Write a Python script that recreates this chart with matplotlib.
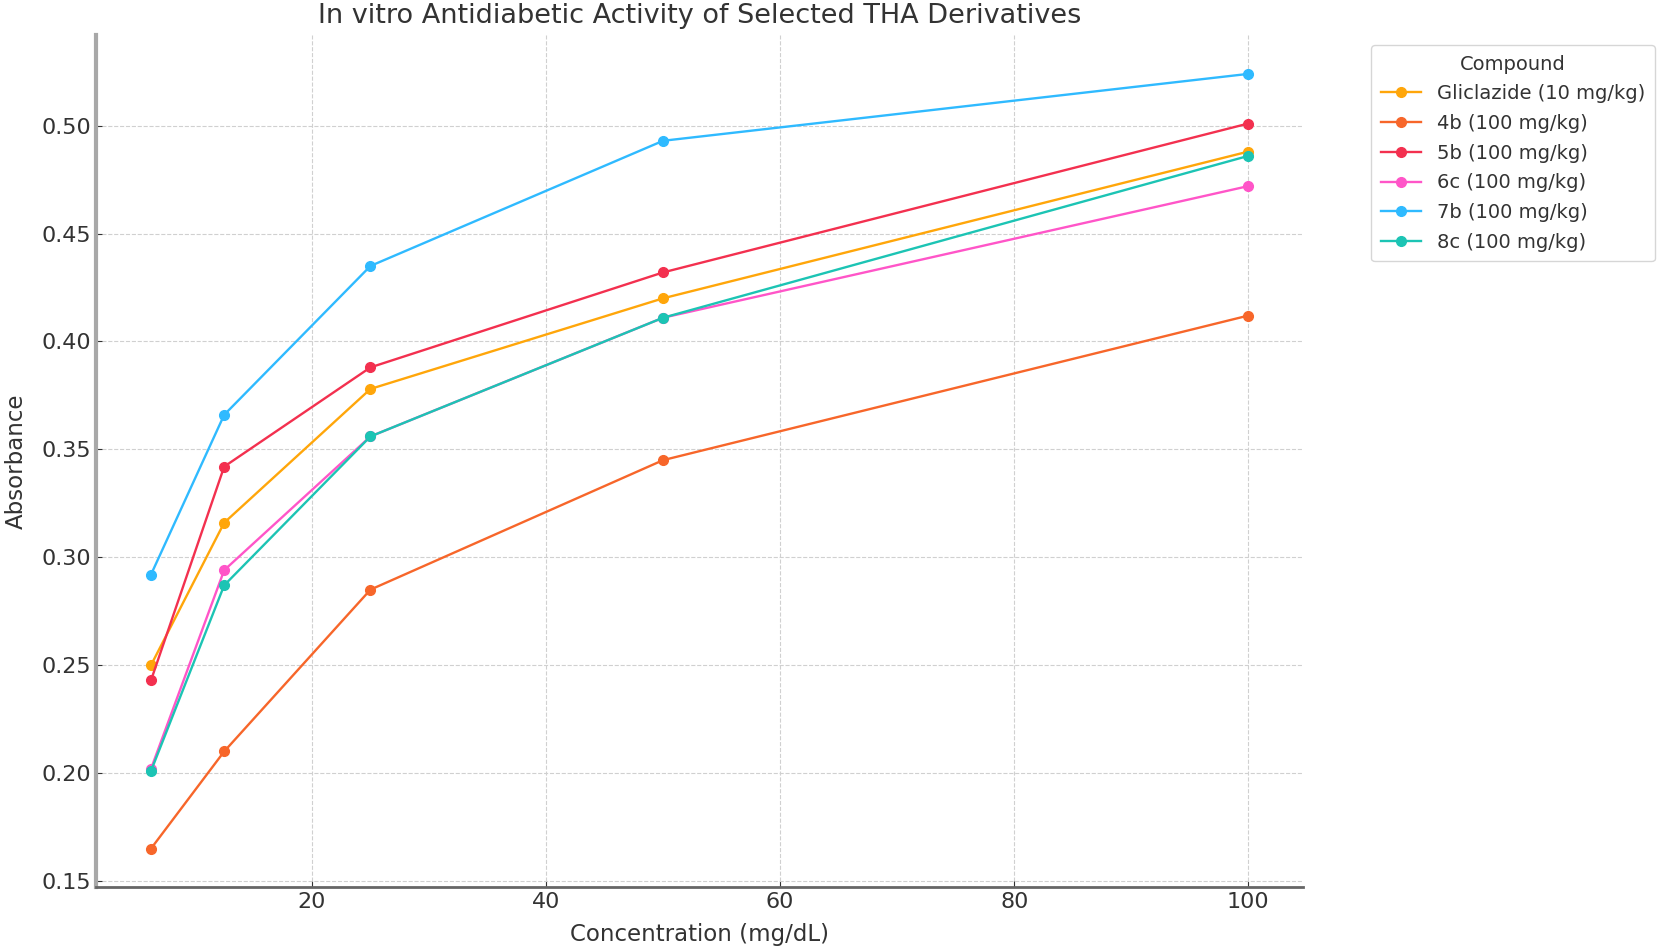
import matplotlib
matplotlib.use("Agg")
import matplotlib.pyplot as plt

# 濃度 (mg/dL)
concentrations = [6.25, 12.5, 25, 50, 100]

compounds = [
    "Gliclazide (10 mg/kg)",
    "4b (100 mg/kg)",
    "5b (100 mg/kg)",
    "6c (100 mg/kg)",
    "7b (100 mg/kg)",
    "8c (100 mg/kg)",
]

gliclazide = [0.250, 0.316, 0.378, 0.420, 0.488]
abs_4b = [0.165, 0.210, 0.285, 0.345, 0.412]
abs_5b = [0.243, 0.342, 0.388, 0.432, 0.501]
abs_6c = [0.202, 0.294, 0.356, 0.411, 0.472]
abs_7b = [0.292, 0.366, 0.435, 0.493, 0.524]
abs_8c = [0.201, 0.287, 0.356, 0.411, 0.486]

series = [gliclazide, abs_4b, abs_5b, abs_6c, abs_7b, abs_8c]
colors = ["#ffa60a", "#f7662a", "#f3304f", "#ff55c8", "#2fbaff", "#1cc4b4"]

fig, ax = plt.subplots(figsize=(16.58, 9.5), dpi=100)

for name, vals, col in zip(compounds, series, colors):
    ax.plot(concentrations, vals, marker="o", markersize=7, linewidth=1.7,
            color=col, label=name)

ax.set_title("In vitro Antidiabetic Activity of Selected THA Derivatives",
             fontsize=19.5, color="#333333", pad=9)
ax.set_xlabel("Concentration (mg/dL)", fontsize=16.5, color="#333333", labelpad=8)
ax.set_ylabel("Absorbance", fontsize=16.5, color="#333333", labelpad=10)

ax.grid(True, linestyle="--", color="#d0d0d0", linewidth=0.8)
ax.tick_params(axis="both", labelsize=16, colors="#333333", direction="in", length=4)
ax.set_yticks([0.15, 0.20, 0.25, 0.30, 0.35, 0.40, 0.45, 0.50])

for side in ["top", "right"]:
    ax.spines[side].set_visible(False)
ax.spines["left"].set_color("#a8a8a8")
ax.spines["left"].set_linewidth(3)
ax.spines["bottom"].set_color("#666666")
ax.spines["bottom"].set_linewidth(2)

leg = ax.legend(title="Compound", loc="upper left", bbox_to_anchor=(1.048, 1.0),
                fontsize=14, title_fontsize=14, frameon=True, borderpad=0.5,
                labelspacing=0.55, handlelength=2.1)
leg.get_frame().set_edgecolor("#cccccc")
for t in leg.get_texts():
    t.set_color("#333333")
leg.get_title().set_color("#333333")

fig.subplots_adjust(left=0.058, right=0.786, top=0.963, bottom=0.066)
fig.savefig("out.png", dpi=100)
